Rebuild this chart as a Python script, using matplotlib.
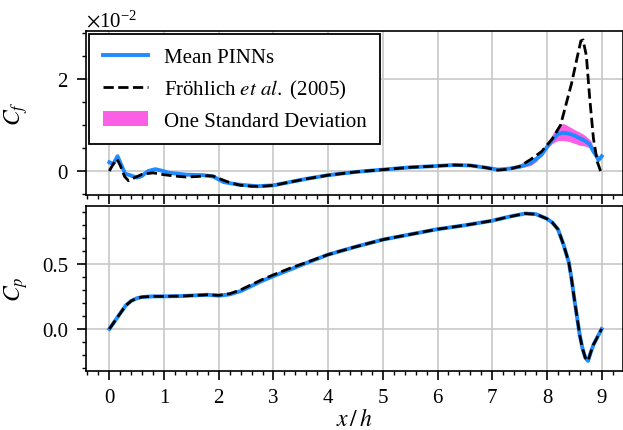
#!/usr/bin/env python
# skin friction and pressure coefficient along the lower wall (periodic hill)
import numpy as np
import matplotlib.pyplot as plt
from matplotlib.ticker import MultipleLocator

plt.rcParams['font.family'] = ['Liberation Serif', 'DejaVu Serif']
plt.rcParams['mathtext.fontset'] = 'stix'
plt.rcParams['font.size'] = 15

# --- Cf, values in units of 1e-2 ---
cf_ref_x = [0, 0.07, 0.14, 0.2, 0.28, 0.35, 0.45, 0.6, 0.8, 1.0, 1.2, 1.4, 1.6, 1.8, 1.9,
            2.0, 2.2, 2.4, 2.6, 2.8, 3.0, 3.3, 3.6, 4.0, 4.5, 5.0, 5.5, 6.0, 6.3, 6.6, 6.9,
            7.1, 7.3, 7.5, 7.7, 7.9, 8.1, 8.25, 8.35, 8.45, 8.55, 8.62, 8.66, 8.72, 8.78,
            8.85, 8.92, 8.98]
cf_ref = [0, 0.15, 0.26, 0.12, -0.12, -0.21, -0.15, -0.07, -0.04, -0.08, -0.11, -0.13, -0.12,
          -0.1, -0.11, -0.16, -0.25, -0.31, -0.33, -0.33, -0.31, -0.24, -0.17, -0.09, -0.02,
          0.03, 0.08, 0.11, 0.13, 0.12, 0.07, 0.02, 0.04, 0.1, 0.25, 0.42, 0.7, 1.0, 1.45,
          1.9, 2.45, 2.82, 2.84, 2.5, 1.6, 0.7, 0.2, 0.0]

cf_pinn_x = [0, 0.07, 0.15, 0.23, 0.29, 0.35, 0.5, 0.59, 0.71, 0.84, 0.95, 1.1, 1.42, 1.72,
             1.9, 2.09, 2.33, 2.7, 3.0, 3.3, 3.6, 4.0, 4.5, 5.0, 5.5, 6.0, 6.3, 6.6, 6.9, 7.1,
             7.3, 7.5, 7.7, 7.9, 8.0, 8.1, 8.2, 8.3, 8.4, 8.5, 8.6, 8.7, 8.78, 8.85, 8.9,
             8.94, 8.97, 9.0]
cf_pinn = [0.19, 0.15, 0.32, 0.1, -0.06, -0.08, -0.14, -0.11, 0.0, 0.04, 0.01, -0.04, -0.08,
           -0.09, -0.12, -0.24, -0.29, -0.33, -0.31, -0.24, -0.17, -0.09, -0.02, 0.03, 0.08,
           0.11, 0.13, 0.12, 0.07, 0.03, 0.05, 0.09, 0.17, 0.35, 0.52, 0.68, 0.8, 0.83, 0.81,
           0.77, 0.71, 0.65, 0.58, 0.42, 0.33, 0.24, 0.27, 0.32]

sd_x = [7.2, 7.4, 7.5, 7.6, 7.7, 7.8, 7.9, 8.0, 8.1, 8.2, 8.3, 8.4, 8.5, 8.6, 8.7, 8.8, 8.9]
sd_lo = [0.02, 0.05, 0.07, 0.09, 0.12, 0.2, 0.33, 0.48, 0.6, 0.66, 0.66, 0.64, 0.6, 0.56,
         0.54, 0.5, 0.3]
sd_hi = [0.04, 0.09, 0.15, 0.22, 0.26, 0.32, 0.42, 0.56, 0.8, 0.98, 1.03, 0.97, 0.9, 0.84,
         0.77, 0.66, 0.36]
sd2_x = [0.42, 0.5, 0.58, 0.66]
sd2_lo = [-0.12, -0.17, -0.14, -0.06]
sd2_hi = [-0.07, -0.1, -0.07, -0.01]

# --- Cp ---
cp_x = [0, 0.1, 0.2, 0.3, 0.4, 0.5, 0.6, 0.8, 1.0, 1.3, 1.6, 1.8, 2.0, 2.2, 2.4, 2.6, 2.8,
        3.0, 3.3, 3.6, 4.0, 4.5, 5.0, 5.5, 6.0, 6.5, 7.0, 7.3, 7.6, 7.8, 8.0, 8.1, 8.2, 8.3,
        8.4, 8.45, 8.5, 8.55, 8.6, 8.65, 8.7, 8.75, 8.8, 8.85, 8.9, 8.95, 9.0]
cp_ref = [0, 0.06, 0.12, 0.18, 0.215, 0.235, 0.245, 0.25, 0.25, 0.252, 0.258, 0.262, 0.258,
          0.27, 0.3, 0.34, 0.38, 0.415, 0.465, 0.51, 0.57, 0.63, 0.685, 0.725, 0.765, 0.795,
          0.83, 0.86, 0.885, 0.88, 0.845, 0.815, 0.765, 0.65, 0.51, 0.38, 0.23, 0.09, -0.05,
          -0.15, -0.22, -0.245, -0.18, -0.12, -0.08, -0.04, 0.0]
cp_pinn = [0, 0.06, 0.12, 0.18, 0.215, 0.235, 0.245, 0.25, 0.25, 0.252, 0.258, 0.262, 0.255,
           0.265, 0.29, 0.33, 0.37, 0.405, 0.455, 0.505, 0.57, 0.63, 0.685, 0.725, 0.765,
           0.795, 0.83, 0.86, 0.885, 0.88, 0.845, 0.815, 0.765, 0.65, 0.51, 0.38, 0.23, 0.09,
           -0.05, -0.15, -0.22, -0.245, -0.18, -0.12, -0.08, -0.04, 0.0]

blue = '#1e8cff'
pink = '#fb5fe6'

fig = plt.figure(figsize=(6.23, 4.31), dpi=100)
ax1 = fig.add_axes([0.138, 0.5452, 0.862, 0.3812])
ax2 = fig.add_axes([0.138, 0.1376, 0.862, 0.3828], sharex=ax1)

s = 1e-2
ax1.fill_between(sd_x, np.array(sd_lo) * s, np.array(sd_hi) * s, color=pink, lw=0,
                 label='One Standard Deviation')
ax1.fill_between(sd2_x, np.array(sd2_lo) * s, np.array(sd2_hi) * s, color=pink, lw=0)
ax1.plot(cf_pinn_x, np.array(cf_pinn) * s, color=blue, lw=2.8, label='Mean PINNs')
ax1.plot(cf_ref_x, np.array(cf_ref) * s, 'k--', lw=2,
         label=r'Fröhlich $\it{et\ al.}$ (2005)')

ax2.plot(cp_x, cp_pinn, color=blue, lw=2.8)
ax2.plot(cp_x, cp_ref, 'k--', lw=2)

ax1.set_xlim(-0.427, 9.39)
ax1.set_ylim(-0.52e-2, 3.04e-2)
ax2.set_ylim(-0.32, 0.945)

ax1.yaxis.set_major_locator(MultipleLocator(2e-2))
ax1.yaxis.set_minor_locator(MultipleLocator(0.5e-2))
ax1.ticklabel_format(axis='y', style='sci', scilimits=(0, 0), useMathText=True)
ax2.yaxis.set_major_locator(MultipleLocator(0.5))
ax2.yaxis.set_minor_locator(MultipleLocator(0.1))
ax2.xaxis.set_major_locator(MultipleLocator(1))
ax2.xaxis.set_minor_locator(MultipleLocator(0.2))
ax2.yaxis.set_major_formatter(plt.FormatStrFormatter('%.1f'))

for ax in (ax1, ax2):
    ax.grid(True, which='major', color='#c8c8c8', lw=1.2)
    ax.set_axisbelow(True)
    ax.tick_params(which='major', direction='out', length=6.5, width=1.2, pad=6,
                   labelsize=15)
    ax.tick_params(which='minor', direction='out', length=3, width=1)
    for sp in ax.spines.values():
        sp.set_linewidth(1.2)
plt.setp(ax1.get_xticklabels(), visible=False)
ax1.yaxis.get_offset_text().set_fontsize(15)

ax1.set_ylabel('$C_f$', fontsize=17)
ax2.set_ylabel('$C_p$', fontsize=17)
ax2.set_xlabel(r'$x\,/\,h$', fontsize=17, labelpad=1)
ax1.yaxis.set_label_coords(-0.104, 0.5)
ax2.yaxis.set_label_coords(-0.104, 0.5)

handles, labels = ax1.get_legend_handles_labels()
order = [1, 2, 0]
leg = ax1.legend([handles[i] for i in order], [labels[i] for i in order],
                 loc='upper left', bbox_to_anchor=(0.006, 0.98), borderaxespad=0,
                 fancybox=False, framealpha=1, edgecolor='k', handlelength=2.16,
                 handletextpad=0.77, borderpad=0.65, fontsize=15)
leg.get_frame().set_linewidth(1.3)

fig.savefig('out.png', dpi=100)
